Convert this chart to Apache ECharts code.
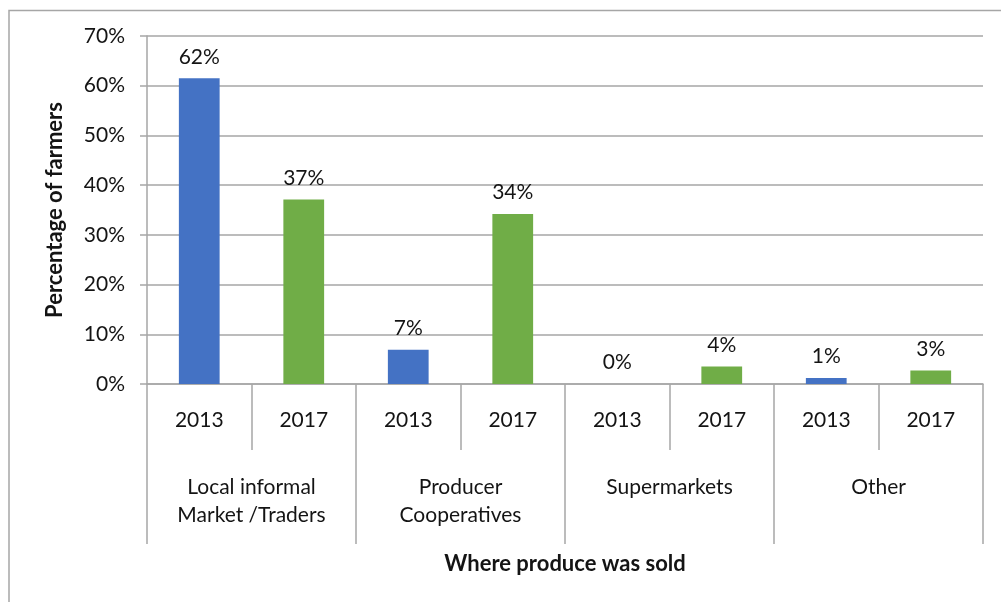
<!DOCTYPE html>
<html>
<head>
<meta charset="utf-8">
<title>Where produce was sold</title>
<script src="https://cdn.jsdelivr.net/npm/echarts@6/dist/echarts.min.js"></script>
<style>
  html, body { margin: 0; padding: 0; background: #fff; }
  #chart { width: 1001px; height: 602px; }
</style>
</head>
<body>
<div id="chart"></div>
<script>
// Outlets where farmers sold their produce, by survey year
const groups = ['Local informal\nMarket /Traders', 'Producer\nCooperatives', 'Supermarkets', 'Other'];
const years = ['2013', '2017'];
const share2013 = [61.5, 6.9, 0, 1.2];
const share2017 = [37.1, 34.2, 3.5, 2.7];
const yTicks = [0, 10, 20, 30, 40, 50, 60, 70];

// One category per (outlet, year) pair
const categories = [];
const data2013 = [];
const data2017 = [];
groups.forEach((g, i) => {
  categories.push(years[0]);
  data2013.push(share2013[i]);
  data2017.push(null);
  categories.push(years[1]);
  data2013.push(null);
  data2017.push(share2017[i]);
});

const FONT = 'Lato, "Open Sans", sans-serif';
const GRAY = '#a6a6a6';
const INK = '#141414';

const labelStyle = {
  show: true,
  position: 'top',
  distance: 11,
  color: INK,
  fontFamily: FONT,
  fontSize: 21,
  formatter: p => Math.round(p.value) + '%'
};

const chart = echarts.init(document.getElementById('chart'), null, { renderer: 'canvas' });
chart.setOption({
  animation: false,
  backgroundColor: '#fff',
  graphic: [{
    type: 'rect',
    shape: { x: 9, y: 10.5, width: 1200, height: 800 },
    style: { fill: 'none', stroke: GRAY, lineWidth: 1.5 },
    silent: true,
    z: -10
  }],
  grid: { left: 147, right: 18, top: 36, bottom: 218, containLabel: false },
  xAxis: [{
    type: 'category',
    data: categories,
    axisLine: { show: true, lineStyle: { color: GRAY, width: 1.5 } },
    axisTick: { show: true, length: 66, lineStyle: { color: GRAY, width: 1.5 } },
    axisLabel: { margin: 26, color: INK, fontFamily: FONT, fontSize: 21 },
    splitLine: { show: false }
  }, {
    type: 'category',
    position: 'bottom',
    data: groups,
    axisLine: { show: false },
    axisTick: { show: true, length: 160, lineStyle: { color: GRAY, width: 1.5 } },
    axisLabel: { margin: 89, color: INK, fontFamily: FONT, fontSize: 21, lineHeight: 28, verticalAlign: 'top' },
    name: 'Where produce was sold',
    nameLocation: 'middle',
    nameGap: 169,
    nameTextStyle: { color: INK, fontFamily: FONT, fontSize: 22, fontWeight: 'bold' }
  }],
  yAxis: {
    type: 'value',
    min: yTicks[0],
    max: yTicks[yTicks.length - 1],
    interval: 10,
    name: 'Percentage of farmers',
    nameLocation: 'middle',
    nameGap: 81,
    nameTextStyle: { color: INK, fontFamily: FONT, fontSize: 22, fontWeight: 'bold' },
    axisLine: { show: true, lineStyle: { color: GRAY, width: 1.5 } },
    axisTick: { show: true, length: 7, lineStyle: { color: GRAY, width: 1.5 } },
    axisLabel: { margin: 22, color: INK, fontFamily: FONT, fontSize: 21, formatter: '{value}%' },
    splitLine: { show: true, lineStyle: { color: GRAY, width: 1.5 } }
  },
  series: [{
    name: years[0],
    type: 'bar',
    xAxisIndex: 0,
    data: data2013,
    barWidth: '39%',
    barGap: '-100%',
    itemStyle: { color: '#4472c4' },
    label: labelStyle
  }, {
    name: years[1],
    type: 'bar',
    xAxisIndex: 0,
    data: data2017,
    barWidth: '39%',
    barGap: '-100%',
    itemStyle: { color: '#70ad47' },
    label: labelStyle
  }]
});
</script>
</body>
</html>
